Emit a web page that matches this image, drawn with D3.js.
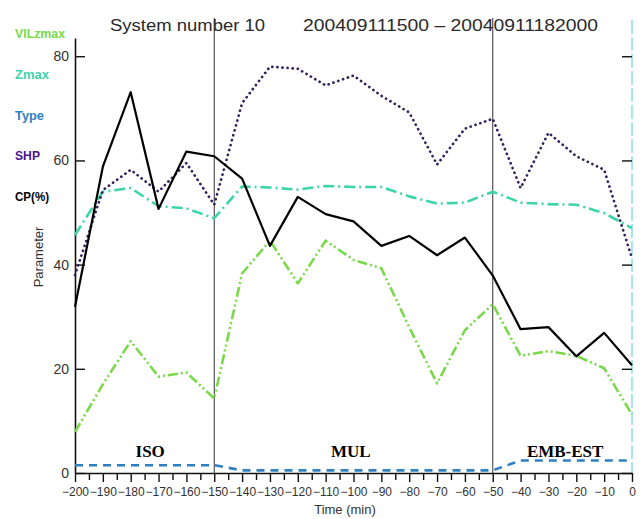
<!DOCTYPE html>
<html>
<head>
<meta charset="utf-8">
<script src="https://cdn.jsdelivr.net/npm/d3@7"></script>
<style>
  body { margin: 0; background: #fff; }
  svg { display: block; font-family: "Liberation Sans", Arial, sans-serif; }
</style>
</head>
<body>
<div id="graphique"></div>
<script>
// temps en minutes (axe x)
let temps = [-200, -190, -180, -170, -160, -150, -140, -130, -120, -110, -100, -90, -80, -70, -60, -50, -40, -30, -20, -10, 0];

// series
let cp = [31.9, 58.8, 73.1, 50.7, 61.7, 60.8, 56.5, 43.6, 53.0, 49.7, 48.3, 43.6, 45.5, 41.8, 45.2, 37.9, 27.6, 28.0, 22.4, 26.9, 20.7];
let shp = [38, 54.3, 58.2, 54, 59.5, 51.5, 71, 78, 77.6, 74.4, 76.3, 72.4, 69.2, 59.2, 66.1, 68, 54.7, 65.3, 60.8, 58.2, 41.2];
let zmax = [45.7, 54, 54.7, 51.2, 50.8, 48.9, 55, 54.8, 54.4, 55.1, 54.9, 54.9, 53.1, 51.7, 51.9, 54, 51.9, 51.6, 51.5, 49.9, 47];
let vilzmax = [7.9, 17, 25.3, 18.5, 19.3, 14.3, 38.3, 44.6, 36.4, 44.6, 40.9, 39.3, 28, 17.2, 27.4, 32.4, 22.5, 23.4, 22.5, 20.1, 11.2];
let type = [1.5, 1.5, 1.5, 1.5, 1.5, 1.5, 0.5, 0.5, 0.5, 0.5, 0.5, 0.5, 0.5, 0.5, 0.5, 0.5, 2.4, 2.4, 2.4, 2.4, 2.4];

// ticks
let xTicksMajeurs = [-200, -190, -180, -170, -160, -150, -140, -130, -120, -110, -100, -90, -80, -70, -60, -50, -40, -30, -20, -10, 0];
let yTicksMajeurs = [0, 20, 40, 60, 80];

// legende et phases
let legende = ["VILzmax", "Zmax", "Type", "SHP", "CP(%)"];
let phases = [{ nom: "ISO", t: -173 }, { nom: "MUL", t: -101 }, { nom: "EMB-EST", t: -24 }];
let separations = [-150, -50];

let monSVG = d3.select("#graphique").append("svg")
    .attr("width", 643)
    .attr("height", 519);

let x = d3.scaleLinear().domain([-200, 0]).range([75, 632]);
let y = d3.scaleLinear().domain([0, 83.5]).range([473, 38]);

let couleurs = {
    "VILzmax": "#7ad84a",
    "Zmax": "#3ed4aa",
    "Type": "#2f80c0",
    "SHP": "#4a1590",
    "CP(%)": "#000000"
};
// la courbe SHP est plus sombre que son libelle
let couleurTrait = Object.assign({}, couleurs, { "SHP": "#33215e" });

// titre
monSVG.append("text").text("System number 10")
    .attr("x", 110).attr("y", 31)
    .attr("font-size", 16).attr("fill", "#2a2a2a")
    .attr("textLength", 155).attr("lengthAdjust", "spacingAndGlyphs");
monSVG.append("text").text("200409111500 \u2013 20040911182000")
    .attr("x", 303).attr("y", 31)
    .attr("font-size", 16).attr("fill", "#2a2a2a")
    .attr("textLength", 295).attr("lengthAdjust", "spacingAndGlyphs");

// legende a gauche
monSVG.selectAll(".leg")
    .data(legende)
    .enter().append("text")
    .attr("class", "leg")
    .text(d => d)
    .attr("x", 15)
    .attr("y", (d, i) => 38 + i * 40.8)
    .attr("font-size", 12.5)
    .attr("font-weight", "bold")
    .attr("fill", d => couleurs[d])
    .attr("textLength", d => ({ "VILzmax": 50, "Zmax": 34, "Type": 29, "SHP": 25, "CP(%)": 34 })[d])
    .attr("lengthAdjust", "spacingAndGlyphs");

// bord droit (ligne claire)
monSVG.append("line")
    .attr("x1", x(0)).attr("x2", x(0))
    .attr("y1", 20).attr("y2", y(0))
    .attr("stroke", "#a6e6f2").attr("stroke-width", 2)
    .attr("stroke-dasharray", "14 3");

// lignes de separation
monSVG.selectAll(".sep")
    .data(separations)
    .enter().append("line")
    .attr("x1", d => x(d)).attr("x2", d => x(d))
    .attr("y1", 18).attr("y2", y(0))
    .attr("stroke", "#333").attr("stroke-width", 1);

// axes
let axeGauche = d3.axisLeft(y).tickValues(yTicksMajeurs).tickSizeInner(-10).tickSizeOuter(0).tickPadding(6).tickFormat(d3.format("d"));
let gGauche = monSVG.append("g").attr("transform", "translate(" + x(-200) + ",0)").call(axeGauche);
let mineursY = y.ticks(21).filter(d => d % 4 === 0 && d % 20 !== 0);
monSVG.append("g").attr("transform", "translate(" + x(-200) + ",0)")
    .call(d3.axisLeft(y).tickValues(mineursY).tickSizeInner(-7).tickSizeOuter(0).tickFormat(""))
    .select(".domain").remove();

monSVG.append("g").attr("transform", "translate(" + x(0) + ",0)")
    .call(d3.axisRight(y).tickValues(yTicksMajeurs).tickSizeInner(-10).tickSizeOuter(0).tickFormat(""))
    .select(".domain").remove();
monSVG.append("g").attr("transform", "translate(" + x(0) + ",0)")
    .call(d3.axisRight(y).tickValues(mineursY).tickSizeInner(-7).tickSizeOuter(0).tickFormat(""))
    .select(".domain").remove();

let axeBas = d3.axisBottom(x).tickValues(xTicksMajeurs).tickSizeInner(9).tickSizeOuter(0).tickPadding(5).tickFormat(d3.format("d"));
let gBas = monSVG.append("g").attr("transform", "translate(0," + y(0) + ")").call(axeBas);
let mineursX = xTicksMajeurs.slice(1).map(d => d - 5);
monSVG.append("g").attr("transform", "translate(0," + y(0) + ")")
    .call(d3.axisBottom(x).tickValues(mineursX).tickSizeInner(7).tickSizeOuter(0).tickFormat(""))
    .select(".domain").remove();

monSVG.selectAll(".tick line").attr("stroke", "#111").attr("stroke-width", 1.4);
monSVG.selectAll(".domain").attr("stroke", "#111").attr("stroke-width", 1.6);
gGauche.selectAll("text").attr("font-size", 14).attr("fill", "#333").attr("font-family", "Liberation Sans, Arial, sans-serif");
// libelles un peu plus petits pour qu'ils ne se chevauchent pas
gBas.selectAll("text").attr("font-size", 12).attr("fill", "#333").attr("font-family", "Liberation Sans, Arial, sans-serif");

// titres des axes
monSVG.append("text").text("Time (min)")
    .attr("x", 345).attr("y", 514)
    .attr("text-anchor", "middle").attr("font-size", 13).attr("fill", "#333");
monSVG.append("text").text("Parameter")
    .attr("transform", "translate(43,257) rotate(-90)")
    .attr("text-anchor", "middle").attr("font-size", 13).attr("fill", "#333");

// courbes
let series = [
    { nom: "VILzmax", valeurs: vilzmax, dash: "10 3 2 3 2 3", largeur: 2.6, cap: "butt" },
    { nom: "Zmax", valeurs: zmax, dash: "11 4 2 4", largeur: 2.6, cap: "butt" },
    { nom: "Type", valeurs: type, dash: "8 6", largeur: 2.6, cap: "butt" },
    { nom: "SHP", valeurs: shp, dash: "0.1 5", largeur: 2.7, cap: "round" },
    { nom: "CP(%)", valeurs: cp, dash: null, largeur: 2.2, cap: "butt" }
];

let ligne = d3.line()
    .x(d => x(d.t))
    .y(d => y(d.v));

monSVG.selectAll(".courbe")
    .data(series)
    .enter().append("path")
    .attr("class", "courbe")
    .attr("d", s => ligne(temps.map((t, i) => ({ t: t, v: s.valeurs[i] }))))
    .attr("fill", "none")
    .attr("stroke", s => couleurTrait[s.nom])
    .attr("stroke-width", s => s.largeur)
    .attr("stroke-dasharray", s => s.dash)
    .attr("stroke-linecap", s => s.cap)
    .attr("stroke-linejoin", "round");

// etiquettes des phases
monSVG.selectAll(".phase")
    .data(phases)
    .enter().append("text")
    .attr("class", "phase")
    .text(d => d.nom)
    .attr("x", d => x(d.t))
    .attr("y", 457)
    .attr("text-anchor", "middle")
    .attr("font-family", "Liberation Serif, Times New Roman, serif")
    .attr("font-weight", "bold")
    .attr("font-size", 17)
    .attr("fill", "#000");
</script>
</body>
</html>
